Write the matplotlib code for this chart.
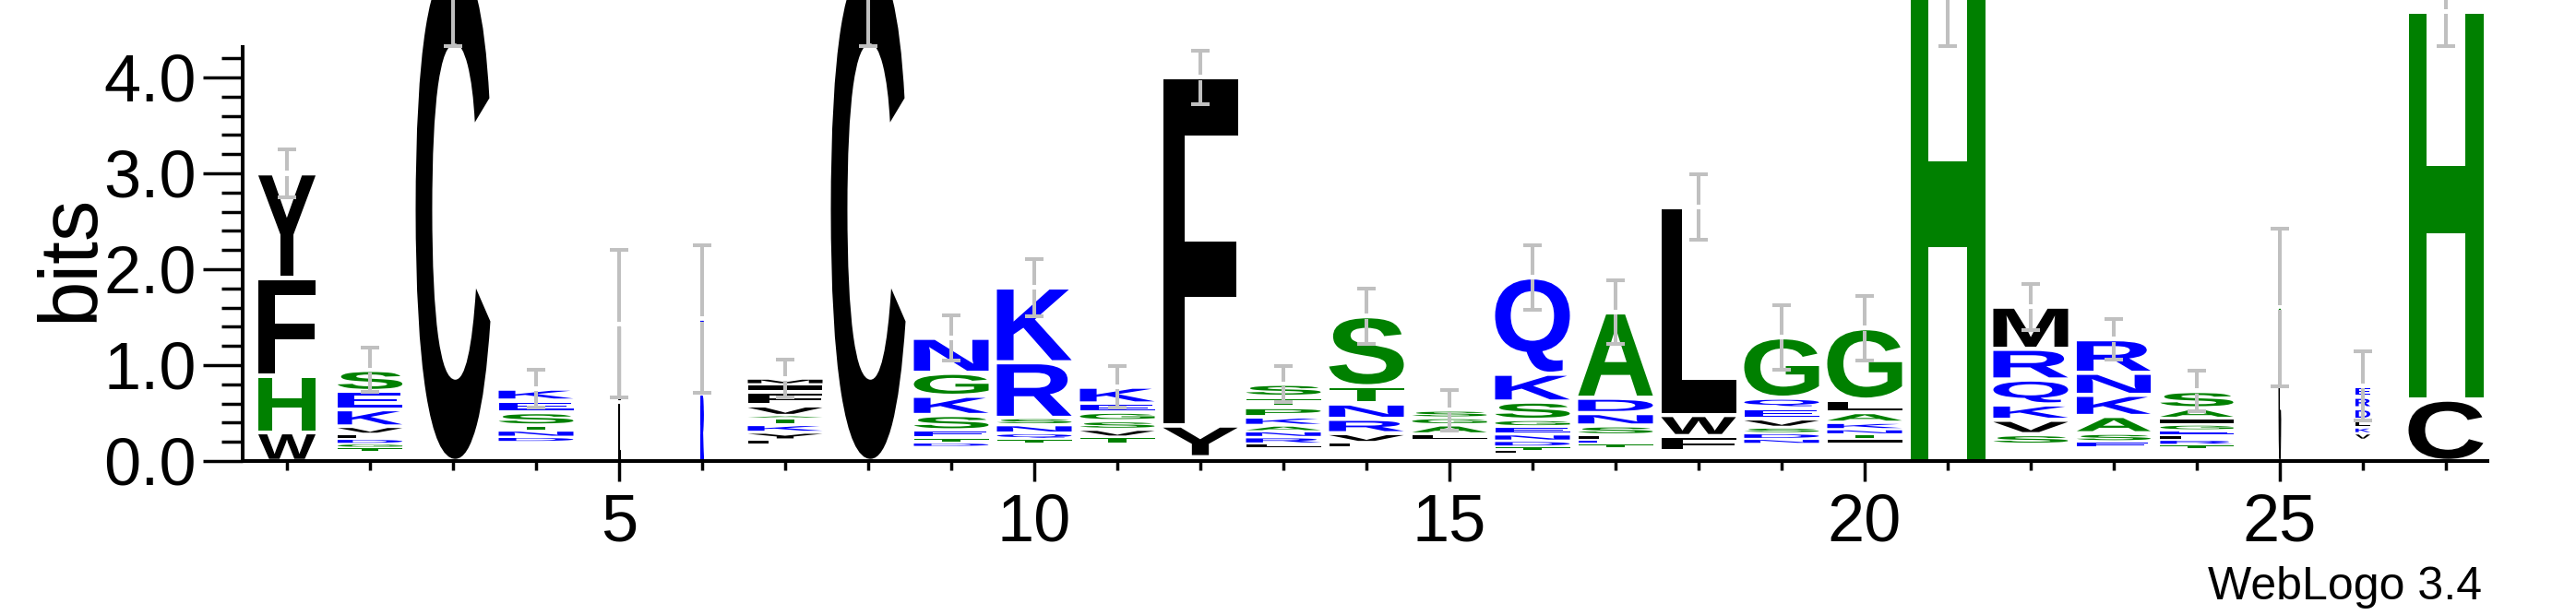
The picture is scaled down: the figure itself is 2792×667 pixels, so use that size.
import matplotlib
matplotlib.use('Agg')
import matplotlib.pyplot as plt
from matplotlib.textpath import TextPath
from matplotlib.font_manager import FontProperties
from matplotlib.patches import PathPatch
from matplotlib.transforms import Affine2D

plt.rcParams['font.family'] = ['Liberation Sans', 'DejaVu Sans']

# sequence logo data (bits)
positions = list(range(1, 28))

# visible stack width as a fraction of the column (columns with gaps are narrower)
col_width = [0.69, 0.78, 0.90, 0.90, 0.025, 0.03, 0.90, 0.90, 0.90, 0.90,
             0.90, 0.90, 0.90, 0.90, 0.90, 0.90, 0.90, 0.90, 0.90, 0.90,
             0.90, 0.90, 0.89, 0.88, 0.02, 0.18, 0.90]

# bits taken up by residues too small to draw, at the bottom of each stack
floor = [0.0, 0.10, 0.0, 0.20, 0.0, 0.0, 0.17, 0.0, 0.15, 0.18,
         0.18, 0.04, 0.14, 0.14, 0.22, 0.08, 0.13, 0.10, 0.18, 0.18,
         0.0, 0.17, 0.14, 0.12, 0.0, 0.22, 0.0]

# letters bottom -> top, (residue, bits)
stacks = [
    [('W', .30), ('H', .59), ('F', 1.02), ('Y', 1.09)],
    [('T', .04), ('G', .04), ('D', .05), ('L', .05), ('V', .08), ('K', .18), ('E', .19), ('S', .22)],
    [('C', 5.2)],
    [('D', .05), ('N', .07), ('T', .05), ('S', .14), ('E', .12), ('K', .125)],
    [('L', .62), ('I', .81)],
    [('R', .70), ('K', .78)],
    [('L', .05), ('Y', .08), ('K', .08), ('T', .07), ('A', .02), ('V', .11), ('F', .14), ('I', .08), ('M', .06)],
    [('C', 5.2)],
    [('D', .04), ('T', .05), ('E', .08), ('S', .16), ('K', .20), ('G', .24), ('N', .365)],
    [('T', .05), ('Q', .06), ('N', .09), ('S', .07), ('R', .58), ('K', .78)],
    [('T', .07), ('V', .08), ('S', .09), ('G', .09), ('E', .09), ('K', .175)],
    [('Y', .33), ('F', 3.63)],
    [('L', .04), ('R', .07), ('N', .06), ('A', .06), ('K', .09), ('P', .10), ('T', .11), ('S', .135)],
    [('L', .05), ('V', .10), ('R', .15), ('N', .16), ('T', .18), ('S', .73)],
    [('L', .06), ('A', .10), ('G', .07), ('S', .08)],
    [('L', .03), ('T', .04), ('D', .06), ('N', .07), ('E', .08), ('G', .07), ('S', .19), ('K', .29), ('Q', 1.005)],
    [('T', .05), ('E', .04), ('L', .05), ('S', .10), ('N', .13), ('D', .16), ('A', .89)],
    [('F', .16), ('W', .22), ('L', 2.17)],
    [('N', .05), ('D', .06), ('S', .06), ('V', .09), ('E', .11), ('Q', .11), ('G', .63)],
    [('I', .05), ('T', .05), ('N', .05), ('K', .07), ('A', .11), ('L', .13), ('G', .745)],
    [('H', 5.2)],
    [('S', .11), ('V', .15), ('K', .16), ('Q', .26), ('R', .32), ('M', .44)],
    [('E', .06), ('S', .09), ('A', .18), ('K', .22), ('N', .23), ('R', .35)],
    [('T', .05), ('R', .05), ('L', .05), ('E', .05), ('G', .06), ('I', .06), ('A', .11), ('S', .18)],
    [('C', 1.52), ('G', .08)],
    [('V', .07), ('K', .06), ('L', .08), ('D', .12), ('R', .12), ('E', .11)],
    [('C', .64), ('H', 4.05)],
]

# half length of the error bar at each stack top
err_half = [.25, .23, .87, .195, .77, .77, .20, .87, .235, .30,
            .215, .28, .185, .29, .21, .335, .33, .34, .335, .335,
            .87, .24, .21, .21, .82, .36, .36]

# hydrophobicity colour scheme
hydrophilic = 'RKDENQ'
neutral = 'SGHTAP'


def letter_color(ch):
    if ch in hydrophilic:
        return '#0000ff'
    if ch in neutral:
        return '#008000'
    return '#000000'


fp = FontProperties(family='Liberation Sans', weight='bold')


def draw_letter(ax, ch, x, y0, w, h):
    g = min(0.022, 0.2 * h)
    tp = TextPath((0, 0), ch, size=1, prop=fp)
    bb = tp.get_extents()
    t = Affine2D().translate(-bb.x0, -bb.y0) \
        .scale(w / bb.width, (h - 2 * g) / bb.height) \
        .translate(x - w / 2, y0 + g)
    col = letter_color(ch)
    if w < 0.1:
        patch = PathPatch(t.transform_path(tp), fc=col, ec=col, lw=0.8)
    else:
        patch = PathPatch(t.transform_path(tp), fc=col, ec='none', lw=0)
    ax.add_patch(patch)


W, H = 2792, 667
fig = plt.figure(figsize=(W / 100, H / 100), dpi=100)
ax = fig.add_axes([266 / W, 167 / H, 2430 / W, 500 / H])
ax.set_xlim(0.5, 27.5)
ax.set_ylim(0, 500 / 104)

for i, p in enumerate(positions):
    y = floor[i]
    for ch, h in stacks[i]:
        draw_letter(ax, ch, p, y, col_width[i], h)
        y += h
    # error bar, broken at the stack top
    e = err_half[i]
    gap = 0.025
    ec = '#c0c0c0'
    ax.plot([p, p], [y - e, y - gap], color=ec, lw=2.9, solid_capstyle='butt', zorder=3)
    ax.plot([p, p], [y + gap, y + e], color=ec, lw=2.9, solid_capstyle='butt', zorder=3)
    ax.hlines([y - e, y + e], p - 0.115, p + 0.115, color=ec, lw=2.9, zorder=3)

for s in ['top', 'right']:
    ax.spines[s].set_visible(False)
ax.spines['left'].set_bounds(0, 4.32)
ax.spines['left'].set_position(('outward', 2.2))
ax.spines['left'].set_linewidth(2.9)
ax.spines['bottom'].set_linewidth(2.9)

ax.set_yticks([0, 1, 2, 3, 4])
ax.set_yticklabels(['0.0', '1.0', '2.0', '3.0', '4.0'])
ax.set_yticks([0.2 * k for k in range(22)], minor=True)
ax.set_xticks([5, 10, 15, 20, 25])
ax.set_xticks(positions, minor=True)

ax.tick_params(axis='y', which='major', length=31, width=2.5, labelsize=52, pad=5)
ax.tick_params(axis='y', which='minor', length=16.5, width=2.5)
ax.tick_params(axis='x', which='major', length=16, width=2.5, labelsize=52, pad=9)
ax.tick_params(axis='x', which='minor', length=7, width=2.5)

fig.text(77 / W, 1 - 280 / H, 'bits', rotation=90, ha='center', va='center', fontsize=64)
fig.text(2690 / W, 17 / H, 'WebLogo 3.4', ha='right', va='baseline', fontsize=36)

fig.savefig('out.png', dpi=100)
